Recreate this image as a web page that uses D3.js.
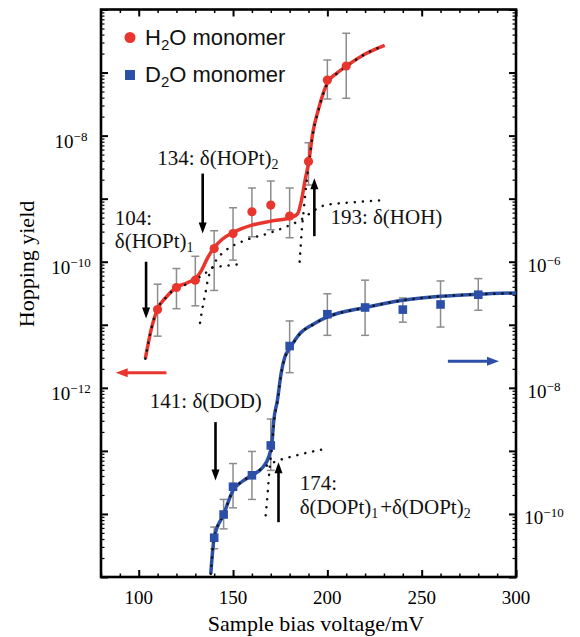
<!DOCTYPE html>
<html><head><meta charset="utf-8">
<script src="https://cdn.jsdelivr.net/npm/d3@7"></script>
<style>body{margin:0;background:#fff}svg{display:block}</style>
</head><body><svg id="c" width="580" height="637"></svg>
<script>
// ---------- data ----------
// H2O monomer, left axis
const h2oV  = [110, 120, 130, 140, 150, 160, 170, 180, 190, 200, 210];
const h2oY  = [1.74e-11, 3.9e-11, 5.1e-11, 1.62e-10, 2.8e-10, 6.2e-10, 7.9e-10, 5.3e-10, 3.9e-9, 7.6e-8, 1.27e-7];
const h2oLo = [6.6e-12, 1.8e-11, 2.0e-11, 3.5e-11, 1.06e-10, 2.5e-10, 3.2e-10, 2.4e-10, 1.64e-9, 3.8e-8, 3.9e-8];
const h2oHi = [4.4e-11, 7.8e-11, 1.22e-10, 3.1e-10, 7.2e-10, 1.48e-9, 1.9e-9, 1.47e-9, 7.7e-9, 1.58e-7, 4.2e-7];
// H2O total fit
const h2oFitV = [103.5, 106.9, 109.8, 114.7, 119.8, 125.5, 130, 133.3, 136.3, 139.6, 144.1, 149.6, 160, 170.2, 181.4, 184.3, 186.3, 188.2, 190.2, 192.2, 195.1, 200, 204.9, 210.2, 220.5, 230.4];
const h2oFitY = [2.9e-12, 9.2e-12, 1.74e-11, 2.76e-11, 3.9e-11, 4.6e-11, 5.4e-11, 7.3e-11, 1.12e-10, 1.62e-10, 2.25e-10, 2.86e-10, 3.8e-10, 4.4e-10, 5.1e-10, 5.8e-10, 9.5e-10, 1.97e-9, 3.9e-9, 1.08e-8, 2.5e-8, 6.9e-8, 9.7e-8, 1.27e-7, 2.0e-7, 2.7e-7];
// H2O components (dotted)
const h2oC1V = [103.5, 106.9, 109.8, 114.7, 119.8, 125.5, 130, 134.2, 139.9, 144.5, 150.1, 155.9];
const h2oC1Y = [2.9e-12, 9.2e-12, 1.74e-11, 2.76e-11, 3.8e-11, 4.4e-11, 5.2e-11, 6.2e-11, 8.2e-11, 8.5e-11, 8.9e-11, 9.3e-11];
const h2oC2V = [132.5, 133.4, 134.6, 135.7, 136.4, 138.5, 141, 146, 155, 170, 184, 199, 215, 230.4];
const h2oC2Y = [1.07e-11, 1.58e-11, 2.45e-11, 3.6e-11, 4.8e-11, 7.5e-11, 1.05e-10, 1.5e-10, 2.1e-10, 2.9e-10, 4.3e-10, 7.9e-10, 8.8e-10, 9.5e-10];
const h2oC3V = [185.3, 185.7, 186.3, 187.3, 188.5, 190.2, 192.2, 195.1, 200, 204.9, 210.2, 220.5, 230.4];
const h2oC3Y = [1.0e-10, 1.52e-10, 2.83e-10, 5.9e-10, 1.36e-9, 3.6e-9, 1.0e-8, 2.4e-8, 6.7e-8, 9.6e-8, 1.26e-7, 2.0e-7, 2.7e-7];

// D2O monomer, right axis
const d2oV  = [140, 145, 150, 160, 170, 180, 200, 220, 240, 260, 280];
const d2oY  = [4.2e-11, 9.8e-11, 2.7e-10, 4.1e-10, 1.22e-9, 4.6e-8, 1.47e-7, 1.88e-7, 1.74e-7, 2.1e-7, 3.0e-7];
const d2oLo = [2.8e-11, 5.8e-11, 1.25e-10, 1.7e-10, 4.9e-10, 1.74e-8, 6.8e-8, 6.8e-8, 1.1e-7, 9.2e-8, 1.7e-7];
const d2oHi = [6.2e-11, 1.7e-10, 6.3e-10, 9.8e-10, 3.2e-9, 1.15e-7, 3.1e-7, 5.1e-7, 2.66e-7, 4.95e-7, 5.4e-7];
const d2oFitV = [138.2, 140, 145, 150, 155, 160, 165.8, 168.6, 170.6, 171.6, 173.5, 175.5, 177.5, 180, 185.3, 193, 200, 220, 240, 260, 280, 300];
const d2oFitY = [1.12e-11, 4.2e-11, 9.8e-11, 2.36e-10, 3.3e-10, 4.1e-10, 5.5e-10, 7.6e-10, 1.32e-9, 3.05e-9, 6.3e-9, 1.7e-8, 3.1e-8, 4.2e-8, 7.2e-8, 1.04e-7, 1.33e-7, 1.88e-7, 2.45e-7, 2.83e-7, 3.05e-7, 3.2e-7];
const d2oC1V = [138.2, 140, 145, 150, 155, 160, 165.8, 171.6, 185, 199];
const d2oC1Y = [1.12e-11, 4.2e-11, 9.8e-11, 2.36e-10, 3.3e-10, 4.1e-10, 5.4e-10, 6.6e-10, 8.7e-10, 1.08e-9];
const d2oC2V = [167.3, 168.5, 169.6, 170.6, 171.6, 173.5, 175.5, 177.5, 180, 185.3, 193, 200, 220, 240, 260, 280, 300];
const d2oC2Y = [9.5e-11, 2.4e-10, 6.3e-10, 1.1e-9, 2.7e-9, 5.9e-9, 1.65e-8, 3.0e-8, 4.1e-8, 7.1e-8, 1.03e-7, 1.32e-7, 1.87e-7, 2.44e-7, 2.82e-7, 3.04e-7, 3.2e-7];

// axis ticks
const xMajor = [100, 150, 200, 250, 300];
const xMinor = [80, 90, 110, 120, 130, 140, 160, 170, 180, 190, 210, 220, 230, 240, 260, 270, 280, 290];
const leftLabelExp = [-8, -10, -12];
const rightLabelExp = [-6, -8, -10];

// annotation arrows: [voltage, tail, tip, axis]
const arrows = [
  [103.9, 1.0e-10, 1.26e-11, "L"],
  [133.9, 2.5e-9, 2.8e-10, "L"],
  [193.1, 2.54e-10, 2.1e-9, "L"],
  [140.7, 2.86e-9, 3.4e-10, "R"],
  [174.1, 7.4e-11, 6.6e-10, "R"]
];

// ---------- layout ----------
const svg = d3.select("#c");
const L = 101, R = 516, T = 9.5, B = 577;
const x = d3.scaleLinear().domain([80, 300]).range([L, R]);
const yL = d3.scaleLog().domain([1e-15, 1e-6]).range([B, T]);
const yR = d3.scaleLog().domain([1e-11, 1e-2]).range([B, T]);

const RED = "#e8352e", BLUE = "#2c50a7", GREY = "#8c8c8c";
const SERIF = "'Liberation Serif', 'Times New Roman', serif";
const SANS = "'Liberation Sans', Arial, sans-serif";

svg.append("rect").attr("width", 580).attr("height", 637).attr("fill", "#fff");

svg.append("defs").append("clipPath").attr("id", "clip")
  .append("rect").attr("x", L).attr("y", T).attr("width", R - L).attr("height", B - T);

// ticks
function decades(lo, hi) { const a = []; for (let e = lo; e <= hi; e++) a.push(Math.pow(10, e)); return a; }
function minors(lo, hi) { const a = []; for (let e = lo; e < hi; e++) for (let m = 2; m <= 9; m++) a.push(m * Math.pow(10, e)); return a; }

function styleAxis(g, w) {
  g.select(".domain").remove();
  g.selectAll("line").attr("stroke", "#000").attr("stroke-width", w);
  g.selectAll("text").remove();
}
svg.append("g").attr("transform", `translate(0,${B})`).call(d3.axisBottom(x).tickValues(xMajor).tickSize(-7)).call(styleAxis, 2);
svg.append("g").attr("transform", `translate(0,${B})`).call(d3.axisBottom(x).tickValues(xMinor).tickSize(-3.5)).call(styleAxis, 1.5);
svg.append("g").attr("transform", `translate(0,${T})`).call(d3.axisTop(x).tickValues(xMajor).tickSize(-7)).call(styleAxis, 2);
svg.append("g").attr("transform", `translate(0,${T})`).call(d3.axisTop(x).tickValues(xMinor).tickSize(-3.5)).call(styleAxis, 1.5);
svg.append("g").attr("transform", `translate(${L},0)`).call(d3.axisLeft(yL).tickValues(decades(-15, -6)).tickSize(-7)).call(styleAxis, 2);
svg.append("g").attr("transform", `translate(${L},0)`).call(d3.axisLeft(yL).tickValues(minors(-15, -6)).tickSize(-3.5)).call(styleAxis, 1.2);
svg.append("g").attr("transform", `translate(${R},0)`).call(d3.axisRight(yR).tickValues(decades(-11, -2)).tickSize(-7)).call(styleAxis, 2);
svg.append("g").attr("transform", `translate(${R},0)`).call(d3.axisRight(yR).tickValues(minors(-11, -2)).tickSize(-3.5)).call(styleAxis, 1.2);

// frame
svg.append("rect").attr("x", L).attr("y", T).attr("width", R - L).attr("height", B - T)
  .attr("fill", "none").attr("stroke", "#000").attr("stroke-width", 2.6);

// tick labels
svg.append("g").selectAll("text").data(xMajor).join("text")
  .attr("x", d => x(d)).attr("y", 604).attr("text-anchor", "middle")
  .attr("font-family", SERIF).attr("font-size", 19).text(d => d);

function powLabel(g, cx, cy, e) {
  const t = g.append("text").attr("x", cx).attr("y", cy).attr("text-anchor", "middle")
    .attr("font-family", SERIF).attr("font-size", 19);
  t.append("tspan").text("10");
  t.append("tspan").attr("font-size", 13).attr("dy", -7).text("\u2212" + Math.abs(e));
}
const lab = svg.append("g");
leftLabelExp.forEach(e => powLabel(lab, 71, yL(Math.pow(10, e)) + 12, e));
rightLabelExp.forEach(e => powLabel(lab, 544, yR(Math.pow(10, e)) + 10, e));

// axis titles
svg.append("text").attr("x", 316).attr("y", 631).attr("text-anchor", "middle")
  .attr("font-family", SERIF).attr("font-size", 22).text("Sample bias voltage/mV");
svg.append("text").attr("transform", "translate(34,264) rotate(-90)").attr("text-anchor", "middle")
  .attr("font-family", SERIF).attr("font-size", 22).text("Hopping yield");

// ---------- plot ----------
const plot = svg.append("g").attr("clip-path", "url(#clip)");
const pts = (vs, ys) => vs.map((v, i) => [v, ys[i]]);

function errorBars(vs, lo, hi, ys) {
  const g = plot.append("g").attr("stroke", GREY).attr("stroke-width", 1.5).attr("fill", "none");
  vs.forEach((v, i) => {
    const cx = x(v);
    g.append("line").attr("x1", cx).attr("x2", cx).attr("y1", ys(lo[i])).attr("y2", ys(hi[i]));
    g.append("line").attr("x1", cx - 4).attr("x2", cx + 4).attr("y1", ys(lo[i])).attr("y2", ys(lo[i]));
    g.append("line").attr("x1", cx - 4).attr("x2", cx + 4).attr("y1", ys(hi[i])).attr("y2", ys(hi[i]));
  });
}
errorBars(h2oV, h2oLo, h2oHi, yL);
errorBars(d2oV, d2oLo, d2oHi, yR);

const lineL = d3.line().x(d => x(d[0])).y(d => yL(d[1])).curve(d3.curveMonotoneX);
const lineR = d3.line().x(d => x(d[0])).y(d => yR(d[1])).curve(d3.curveMonotoneX);

plot.append("path").attr("d", lineL(pts(h2oFitV, h2oFitY))).attr("fill", "none").attr("stroke", RED).attr("stroke-width", 3.5);
plot.append("path").attr("d", lineR(pts(d2oFitV, d2oFitY))).attr("fill", "none").attr("stroke", BLUE).attr("stroke-width", 3.5);

function dotted(d) {
  plot.append("path").attr("d", d).attr("fill", "none").attr("stroke", "#111")
    .attr("stroke-width", 2.5).attr("stroke-dasharray", "0.1 8").attr("stroke-linecap", "round");
}
dotted(lineL(pts(h2oC1V, h2oC1Y)));
dotted(lineL(pts(h2oC2V, h2oC2Y)));
dotted(lineL(pts(h2oC3V, h2oC3Y)));
dotted(lineR(pts(d2oC1V, d2oC1Y)));
dotted(lineR(pts(d2oC2V, d2oC2Y)));

// markers
plot.append("g").selectAll("circle").data(pts(h2oV, h2oY)).join("circle")
  .attr("cx", d => x(d[0])).attr("cy", d => yL(d[1])).attr("r", 4.6).attr("fill", RED);
plot.append("g").selectAll("rect").data(pts(d2oV, d2oY)).join("rect")
  .attr("x", d => x(d[0]) - 4.3).attr("y", d => yR(d[1]) - 4.3).attr("width", 8.6).attr("height", 8.6).attr("fill", BLUE);

// arrows
function arrow(x1, y1, x2, y2, color, w, hl, hw) {
  const dx = x2 - x1, dy = y2 - y1, len = Math.hypot(dx, dy), ux = dx / len, uy = dy / len;
  const bx = x2 - ux * hl, by = y2 - uy * hl;
  svg.append("line").attr("x1", x1).attr("y1", y1).attr("x2", bx + ux).attr("y2", by + uy)
    .attr("stroke", color).attr("stroke-width", w);
  svg.append("path").attr("d", `M${x2},${y2}L${bx - uy * hw / 2},${by + ux * hw / 2}L${bx + uy * hw / 2},${by - ux * hw / 2}Z`)
    .attr("fill", color);
}
arrows.forEach(a => {
  const ys = a[3] === "L" ? yL : yR;
  arrow(x(a[0]), ys(a[1]), x(a[0]), ys(a[2]), "#000", 2.6, 11, 8);
});
// axis-indicator arrows
arrow(x(114.7), yL(1.74e-12), x(87.8), yL(1.74e-12), RED, 3, 12, 9);
arrow(x(263.9), yR(2.64e-8), x(291), yR(2.64e-8), BLUE, 3, 12, 9);

// annotation text
function ann(xv, yv, ys, parts) {
  const t = svg.append("text").attr("x", x(xv)).attr("y", ys(yv)).attr("font-family", SERIF).attr("font-size", 21).attr("fill", "#111");
  parts.forEach(p => {
    if (typeof p === "string") t.append("tspan").text(p);
    else { t.append("tspan").attr("font-size", 14).attr("dy", 4).text(p.sub); t.append("tspan").attr("dy", -4).text("\u200a"); }
  });
}
ann(87.3, 3.87e-10, yL, ["104:"]);
ann(87.3, 1.64e-10, yL, ["\u03b4(HOPt)", {sub: "1"}]);
ann(109.8, 3.4e-9, yL, ["134: \u03b4(HOPt)", {sub: "2"}]);
ann(201.6, 3.94e-10, yL, ["193: \u03b4(HOH)"]);
ann(105.9, 4.73e-9, yR, ["141: \u03b4(DOD)"]);
ann(185.3, 2.36e-10, yR, ["174:"]);
ann(185.3, 9.8e-11, yR, ["\u03b4(DOPt)", {sub: "1"}, "+\u03b4(DOPt)", {sub: "2"}]);

// legend
svg.append("circle").attr("cx", 130).attr("cy", 37.5).attr("r", 5.5).attr("fill", RED);
svg.append("rect").attr("x", 125).attr("y", 70).attr("width", 10).attr("height", 10).attr("fill", BLUE);
function legText(y, letter) {
  const t = svg.append("text").attr("x", 145).attr("y", y).attr("font-family", SANS).attr("font-size", 22).attr("fill", "#111");
  t.append("tspan").text(letter);
  t.append("tspan").attr("font-size", 15).attr("dy", 5).text("2");
  t.append("tspan").attr("dy", -5).text("O monomer");
}
legText(44.5, "H");
legText(82, "D");
</script>
</body></html>
